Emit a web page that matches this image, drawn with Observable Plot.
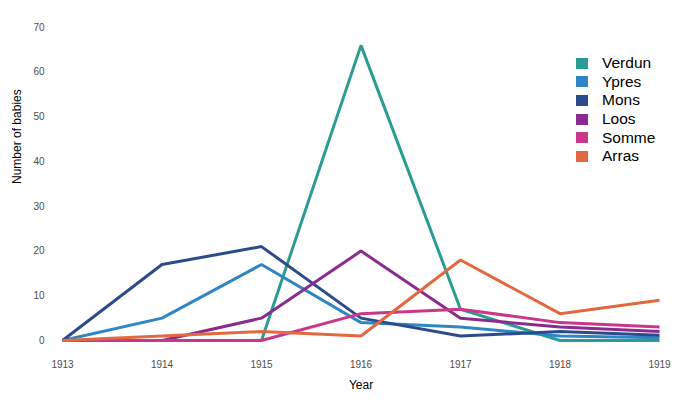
<!DOCTYPE html>
<html>
<head>
<meta charset="utf-8">
<script src="https://cdn.jsdelivr.net/npm/d3@7"></script>
<script src="https://cdn.jsdelivr.net/npm/@observablehq/plot@0.6"></script>
<style>
  html, body { margin: 0; padding: 0; background: #fff; }
  #wrap { position: relative; width: 680px; height: 400px; font-family: "Liberation Sans", Arial, sans-serif; }
  #legend { position: absolute; left: 576px; top: 54px; }
  .item { display: flex; align-items: center; height: 18.6px; font-size: 15.5px; color: #000; }
  .sw { width: 12px; height: 11px; margin-right: 14px; }
</style>
</head>
<body>
<div id="wrap"></div>
<script>
const years = [1913, 1914, 1915, 1916, 1917, 1918, 1919];
const series = ["Verdun", "Ypres", "Mons", "Loos", "Somme", "Arras"];
const colors = ["#2a9c91", "#2f86c4", "#2b4b8c", "#8b2b8f", "#c9368a", "#e0693f"];
const verdun = [0, 0, 0, 66, 7, 0, 0];
const ypres  = [0, 5, 17, 4, 3, 1, 0.6];
const mons   = [0, 17, 21, 5, 1, 2, 1.2];
const loos   = [0, 0, 5, 20, 5, 3, 2];
const somme  = [0, 0, 0, 6, 7, 4, 3];
const arras  = [0, 1, 2, 1, 18, 6, 9];
const yTicks = [0, 10, 20, 30, 40, 50, 60, 70];

const valuesBySeries = [verdun, ypres, mons, loos, somme, arras];
const rows = [];
series.forEach((s, i) => years.forEach((y, j) => rows.push({series: s, year: y, value: valuesBySeries[i][j]})));

const chart = Plot.plot({
  width: 680,
  height: 400,
  marginLeft: 62,
  marginRight: 21,
  marginTop: 27,
  marginBottom: 60,
  style: {fontFamily: "Liberation Sans, Arial, sans-serif", fontSize: "10px", background: "#fff"},
  x: {domain: [1913, 1919]},
  y: {domain: [0, 70]},
  color: {domain: series, range: colors},
  marks: [
    Plot.axisX({ticks: years, tickFormat: d => String(d), tickSize: 0, tickPadding: 20, fill: "#4d4d4d", label: null}),
    Plot.axisY({ticks: yTicks, tickSize: 0, tickPadding: 18, fill: "#4d4d4d", label: null}),
    Plot.text(["Year"], {frameAnchor: "bottom", dy: 48, fontSize: 12, fill: "#000"}),
    Plot.text(["Number of babies"], {frameAnchor: "left", dx: -45, rotate: -90, fontSize: 12, fill: "#000"}),
    Plot.line(rows, {x: "year", y: "value", z: "series", stroke: "series", strokeWidth: 3, strokeLinejoin: "miter", strokeLinecap: "butt"})
  ]
});
const wrap = document.getElementById("wrap");
wrap.appendChild(chart);

const legend = document.createElement("div");
legend.id = "legend";
series.forEach((s, i) => {
  const it = document.createElement("div");
  it.className = "item";
  const sw = document.createElement("div");
  sw.className = "sw";
  sw.style.background = colors[i];
  const t = document.createElement("span");
  t.textContent = s;
  it.appendChild(sw);
  it.appendChild(t);
  legend.appendChild(it);
});
wrap.appendChild(legend);
</script>
</body>
</html>
